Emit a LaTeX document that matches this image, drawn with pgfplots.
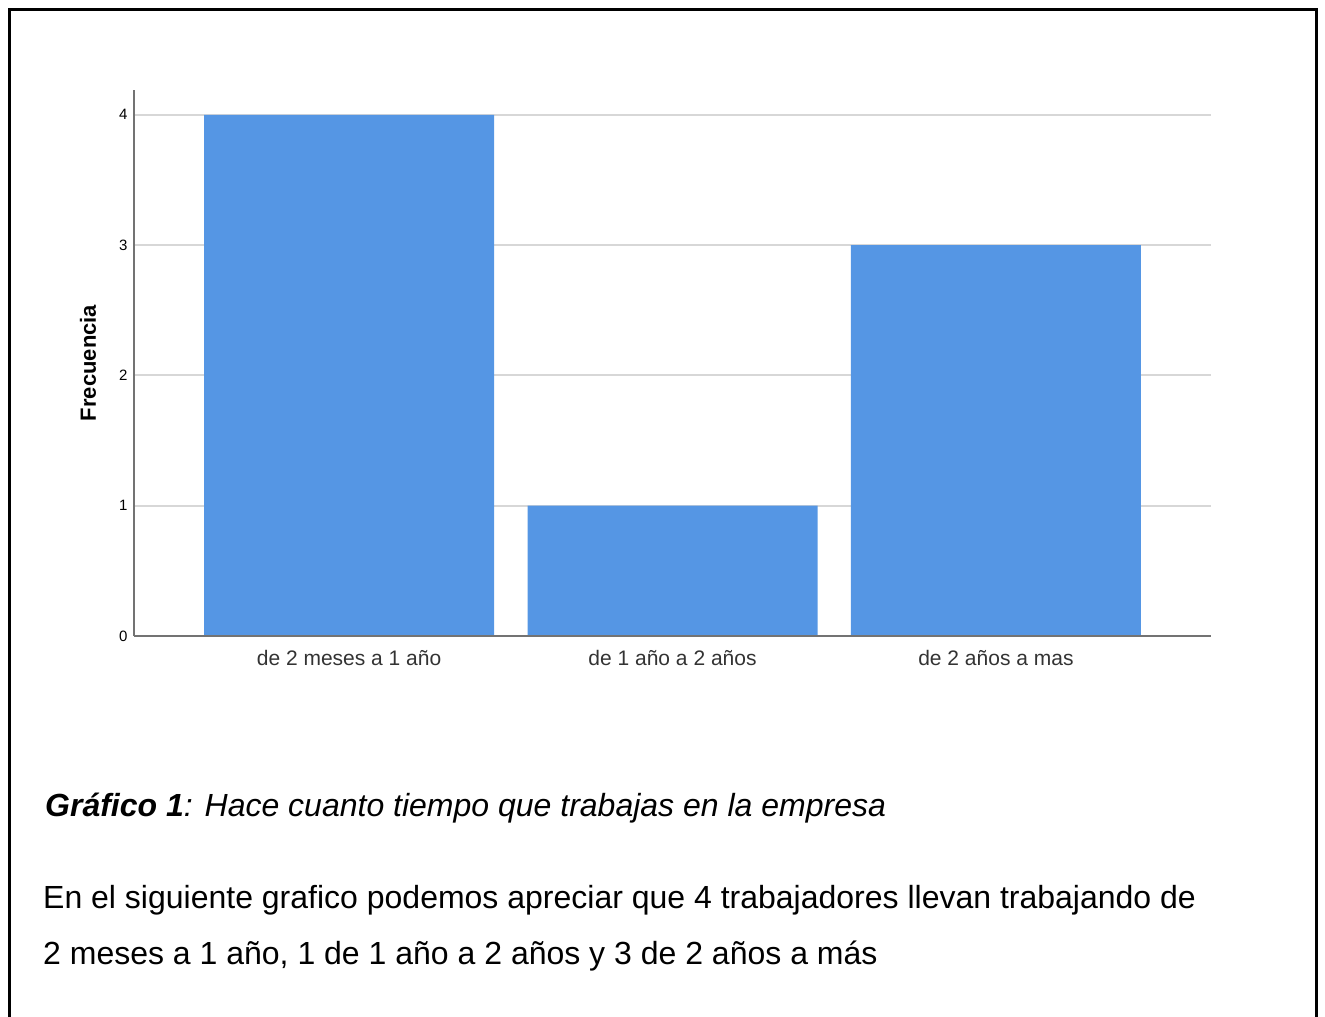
\documentclass[border=0pt]{standalone}
\usepackage{fontspec}
\setmainfont{Liberation Sans}
\usepackage{pgfplots}
\pgfplotsset{compat=1.18}
\definecolor{barblue}{RGB}{85,150,228}
\definecolor{gridgray}{RGB}{215,215,215}
\definecolor{axisgray}{RGB}{115,115,115}
\begin{document}
\begin{tikzpicture}[x=1pt,y=-1pt]
\path[use as bounding box] (0,0) rectangle (1325,1017);
\draw[line width=3pt] (9.5,1017) -- (9.5,9.5) -- (1316.5,9.5) -- (1316.5,1017);
\begin{axis}[
  at={(134pt,-636pt)}, anchor=south west,
  scale only axis, width=1077pt, height=546pt,
  xmin=-0.665, xmax=2.665, ymin=0, ymax=4.19,
  axis x line*=bottom, axis y line*=left,
  axis line style={draw=axisgray, line width=1.5pt},
  xtick={0,1,2},
  xticklabels={de 2 meses a 1 año, de 1 año a 2 años, de 2 años a mas},
  ytick={0,1,2,3,4},
  major tick length=0pt,
  ymajorgrids,
  grid style={draw=gridgray, line width=1.8pt},
  /pgf/number format/assume math mode=true,
  yticklabel style={font=\fontsize{15}{18}\selectfont, xshift=-3pt},
  xticklabel style={font=\fontsize{21}{25}\selectfont, text=black!80, anchor=base, yshift=-29pt},
  ylabel={\bfseries Frecuencia},
  ylabel style={font=\fontsize{22}{26}\selectfont, at={(axis description cs:-0.0427,0.5)}, anchor=center},
]
\addplot[ybar, bar width=290pt, fill=barblue, draw=none] coordinates {(0,4) (1,1) (2,3)};
\draw[axisgray, line width=1.5pt] (rel axis cs:0,0) -- (rel axis cs:1,0);
\end{axis}
\node[anchor=base west, inner sep=0, font=\fontsize{32}{38}\selectfont] at (45,816)
  {{\bfseries\itshape Gráfico 1}\itshape: Hace cuanto tiempo que trabajas en la empresa};
\node[anchor=base west, inner sep=0, font=\fontsize{32}{38}\selectfont] at (43,908)
  {En el siguiente grafico podemos apreciar que 4 trabajadores llevan trabajando de};
\node[anchor=base west, inner sep=0, font=\fontsize{32}{38}\selectfont] at (43,964)
  {2 meses a 1 año, 1 de 1 año a 2 años y 3 de 2 años a más};
\end{tikzpicture}
\end{document}
